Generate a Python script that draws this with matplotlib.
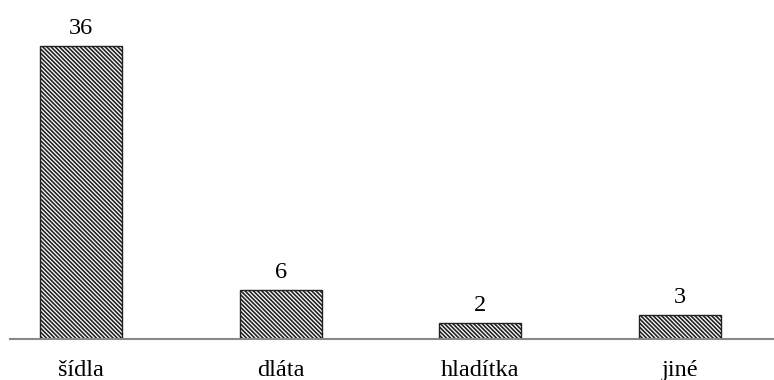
import matplotlib
matplotlib.use('Agg')
import matplotlib.pyplot as plt

categories = ['šídla', 'dláta', 'hladítka', 'jiné']
counts = [36, 6, 2, 3]

plt.rcParams['font.family'] = ['Liberation Serif', 'DejaVu Serif']
plt.rcParams['hatch.linewidth'] = 1.2

fig = plt.figure(figsize=(7.74, 3.8), dpi=100)
ax = fig.add_axes([10 / 774, 41 / 380, 764 / 774, 329 / 380])

x = range(len(categories))
bars = ax.bar(x, counts, width=0.41, color='white', edgecolor='#222222',
              linewidth=1.0, hatch='\\\\\\\\\\\\\\\\')

for b, v in zip(bars, counts):
    ax.annotate(str(v), (b.get_x() + b.get_width() / 2, v),
                xytext=(0, 5), textcoords='offset points',
                ha='center', va='bottom', fontsize=17.5)

ax.set_xlim(-0.355, 3.47)
ax.set_ylim(0, 329 / 8.14)
ax.set_xticks(list(x))
ax.set_xticklabels(categories, fontsize=17.5)
ax.tick_params(axis='x', length=0, pad=15)
ax.set_yticks([])
for s in ['top', 'right', 'left']:
    ax.spines[s].set_visible(False)
ax.spines['bottom'].set_color('#888888')
ax.spines['bottom'].set_linewidth(1.5)

fig.savefig('out.png', dpi=100)
